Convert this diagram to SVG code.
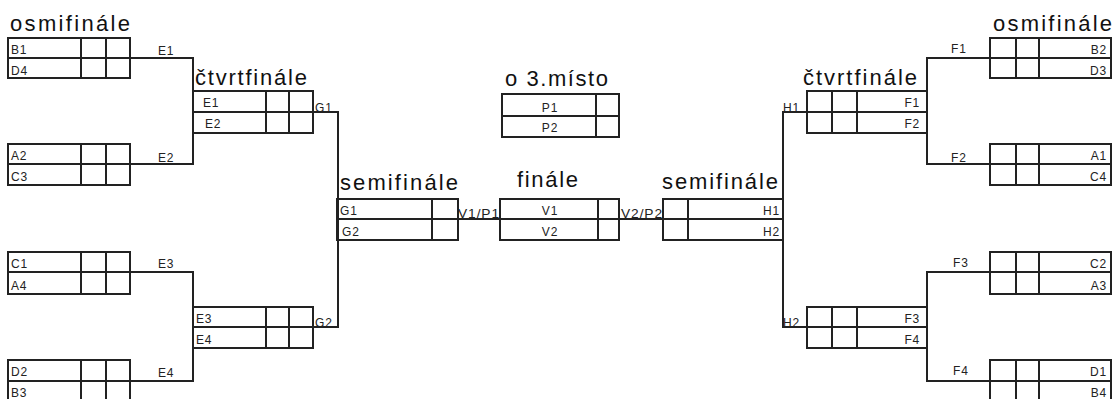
<svg xmlns="http://www.w3.org/2000/svg" width="1113" height="399" viewBox="0 0 1113 399">
<style>
rect.b{fill:none;stroke:#222;stroke-width:2}
line,path{stroke:#222;stroke-width:2;fill:none}
.t{font-family:"Liberation Sans",Arial,sans-serif;font-size:22px;fill:#111}
.s{font-family:"Liberation Sans",Arial,sans-serif;font-size:12px;letter-spacing:0.8px;fill:#222}
.m{text-anchor:middle}
.e{text-anchor:end}
</style>
<rect width="1113" height="399" fill="#fff"/>
<g id="connectors">
<path d="M130,58H193V164H130M130,272H193V381H130"/>
<path d="M313,112H338V327H313"/>
<path d="M458,219H500M619,219H663"/>
<path d="M807,112H783V327H807"/>
<path d="M990,58H927V164H990M990,272H927V381H990"/>
<text class="s" x="158" y="55">E1</text>
<text class="s" x="158" y="162">E2</text>
<text class="s" x="158" y="268">E3</text>
<text class="s" x="158" y="377">E4</text>
<text class="s" x="315" y="112">G1</text>
<text class="s" x="315" y="327">G2</text>
<text class="s" x="458" y="218" textLength="42" lengthAdjust="spacingAndGlyphs">V1/P1</text>
<text class="s" x="621" y="218" textLength="42" lengthAdjust="spacingAndGlyphs">V2/P2</text>
<text class="s" x="783" y="112">H1</text>
<text class="s" x="783" y="327">H2</text>
<text class="s" x="951" y="53">F1</text>
<text class="s" x="951" y="162">F2</text>
<text class="s" x="953" y="267">F3</text>
<text class="s" x="953" y="375">F4</text>
</g>
<g id="titles">
<text class="t" x="10" y="31" textLength="120" lengthAdjust="spacing">osmifinále</text>
<text class="t" x="195" y="85" textLength="112" lengthAdjust="spacing">čtvrtfinále</text>
<text class="t" x="340" y="190" textLength="118" lengthAdjust="spacing">semifinále</text>
<text class="t" x="517" y="187" textLength="61" lengthAdjust="spacing">finále</text>
<text class="t" x="505" y="86" textLength="103" lengthAdjust="spacing">o 3.místo</text>
<text class="t" x="662" y="189" textLength="116" lengthAdjust="spacing">semifinále</text>
<text class="t" x="803" y="85" textLength="114" lengthAdjust="spacing">čtvrtfinále</text>
<text class="t" x="993" y="31" textLength="119" lengthAdjust="spacing">osmifinále</text>
</g>
<g id="r16-l1"><rect class="b" x="8" y="38" width="122" height="40"/><line x1="8" y1="58" x2="130" y2="58"/><line x1="81" y1="38" x2="81" y2="78"/><line x1="106" y1="38" x2="106" y2="78"/><text class="s" x="11" y="54">B1</text><text class="s" x="11" y="75">D4</text></g>
<g id="r16-l2"><rect class="b" x="8" y="144" width="122" height="41"/><line x1="8" y1="164" x2="130" y2="164"/><line x1="81" y1="144" x2="81" y2="185"/><line x1="106" y1="144" x2="106" y2="185"/><text class="s" x="11" y="160">A2</text><text class="s" x="11" y="181">C3</text></g>
<g id="r16-l3"><rect class="b" x="8" y="252" width="122" height="42"/><line x1="8" y1="272" x2="130" y2="272"/><line x1="81" y1="252" x2="81" y2="294"/><line x1="106" y1="252" x2="106" y2="294"/><text class="s" x="11" y="268">C1</text><text class="s" x="11" y="290">A4</text></g>
<g id="r16-l4"><rect class="b" x="8" y="360" width="122" height="42"/><line x1="8" y1="381" x2="130" y2="381"/><line x1="81" y1="360" x2="81" y2="402"/><line x1="106" y1="360" x2="106" y2="402"/><text class="s" x="11" y="376">D2</text><text class="s" x="11" y="397">B3</text></g>
<g id="qf-l1"><rect class="b" x="193" y="91" width="120" height="42"/><line x1="193" y1="112" x2="313" y2="112"/><line x1="266" y1="91" x2="266" y2="133"/><line x1="289" y1="91" x2="289" y2="133"/><text class="s" x="203" y="107">E1</text><text class="s" x="205" y="128">E2</text></g>
<g id="qf-l2"><rect class="b" x="193" y="307" width="120" height="41"/><line x1="193" y1="327" x2="313" y2="327"/><line x1="266" y1="307" x2="266" y2="348"/><line x1="289" y1="307" x2="289" y2="348"/><text class="s" x="196" y="323">E3</text><text class="s" x="196" y="344">E4</text></g>
<g id="sf-l"><rect class="b" x="337" y="199" width="121" height="41"/><line x1="337" y1="219" x2="458" y2="219"/><line x1="432" y1="199" x2="432" y2="240"/><text class="s" x="340" y="215">G1</text><text class="s" x="342" y="236">G2</text></g>
<g id="final"><rect class="b" x="500" y="199" width="119" height="41"/><line x1="500" y1="219" x2="619" y2="219"/><line x1="598" y1="199" x2="598" y2="240"/><text class="s m" x="550" y="215">V1</text><text class="s m" x="550" y="236">V2</text></g>
<g id="third"><rect class="b" x="502" y="94" width="117" height="43"/><line x1="502" y1="116" x2="619" y2="116"/><line x1="596" y1="94" x2="596" y2="137"/><text class="s m" x="550" y="112">P1</text><text class="s m" x="550" y="132">P2</text></g>
<g id="sf-r"><rect class="b" x="663" y="199" width="120" height="41"/><line x1="663" y1="219" x2="783" y2="219"/><line x1="688" y1="199" x2="688" y2="240"/><text class="s e" x="780" y="215">H1</text><text class="s e" x="780" y="236">H2</text></g>
<g id="qf-r1"><rect class="b" x="807" y="91" width="120" height="42"/><line x1="807" y1="112" x2="927" y2="112"/><line x1="832" y1="91" x2="832" y2="133"/><line x1="857" y1="91" x2="857" y2="133"/><text class="s e" x="920" y="107">F1</text><text class="s e" x="920" y="128">F2</text></g>
<g id="qf-r2"><rect class="b" x="807" y="307" width="120" height="41"/><line x1="807" y1="327" x2="927" y2="327"/><line x1="832" y1="307" x2="832" y2="348"/><line x1="857" y1="307" x2="857" y2="348"/><text class="s e" x="920" y="323">F3</text><text class="s e" x="920" y="344">F4</text></g>
<g id="r16-r1"><rect class="b" x="990" y="38" width="121" height="40"/><line x1="990" y1="58" x2="1111" y2="58"/><line x1="1016" y1="38" x2="1016" y2="78"/><line x1="1039" y1="38" x2="1039" y2="78"/><text class="s e" x="1107" y="54">B2</text><text class="s e" x="1107" y="75">D3</text></g>
<g id="r16-r2"><rect class="b" x="990" y="144" width="121" height="41"/><line x1="990" y1="164" x2="1111" y2="164"/><line x1="1016" y1="144" x2="1016" y2="185"/><line x1="1039" y1="144" x2="1039" y2="185"/><text class="s e" x="1107" y="160">A1</text><text class="s e" x="1107" y="181">C4</text></g>
<g id="r16-r3"><rect class="b" x="990" y="252" width="121" height="42"/><line x1="990" y1="272" x2="1111" y2="272"/><line x1="1016" y1="252" x2="1016" y2="294"/><line x1="1039" y1="252" x2="1039" y2="294"/><text class="s e" x="1107" y="268">C2</text><text class="s e" x="1107" y="290">A3</text></g>
<g id="r16-r4"><rect class="b" x="990" y="360" width="121" height="42"/><line x1="990" y1="381" x2="1111" y2="381"/><line x1="1016" y1="360" x2="1016" y2="402"/><line x1="1039" y1="360" x2="1039" y2="402"/><text class="s e" x="1107" y="376">D1</text><text class="s e" x="1107" y="397">B4</text></g>
</svg>
